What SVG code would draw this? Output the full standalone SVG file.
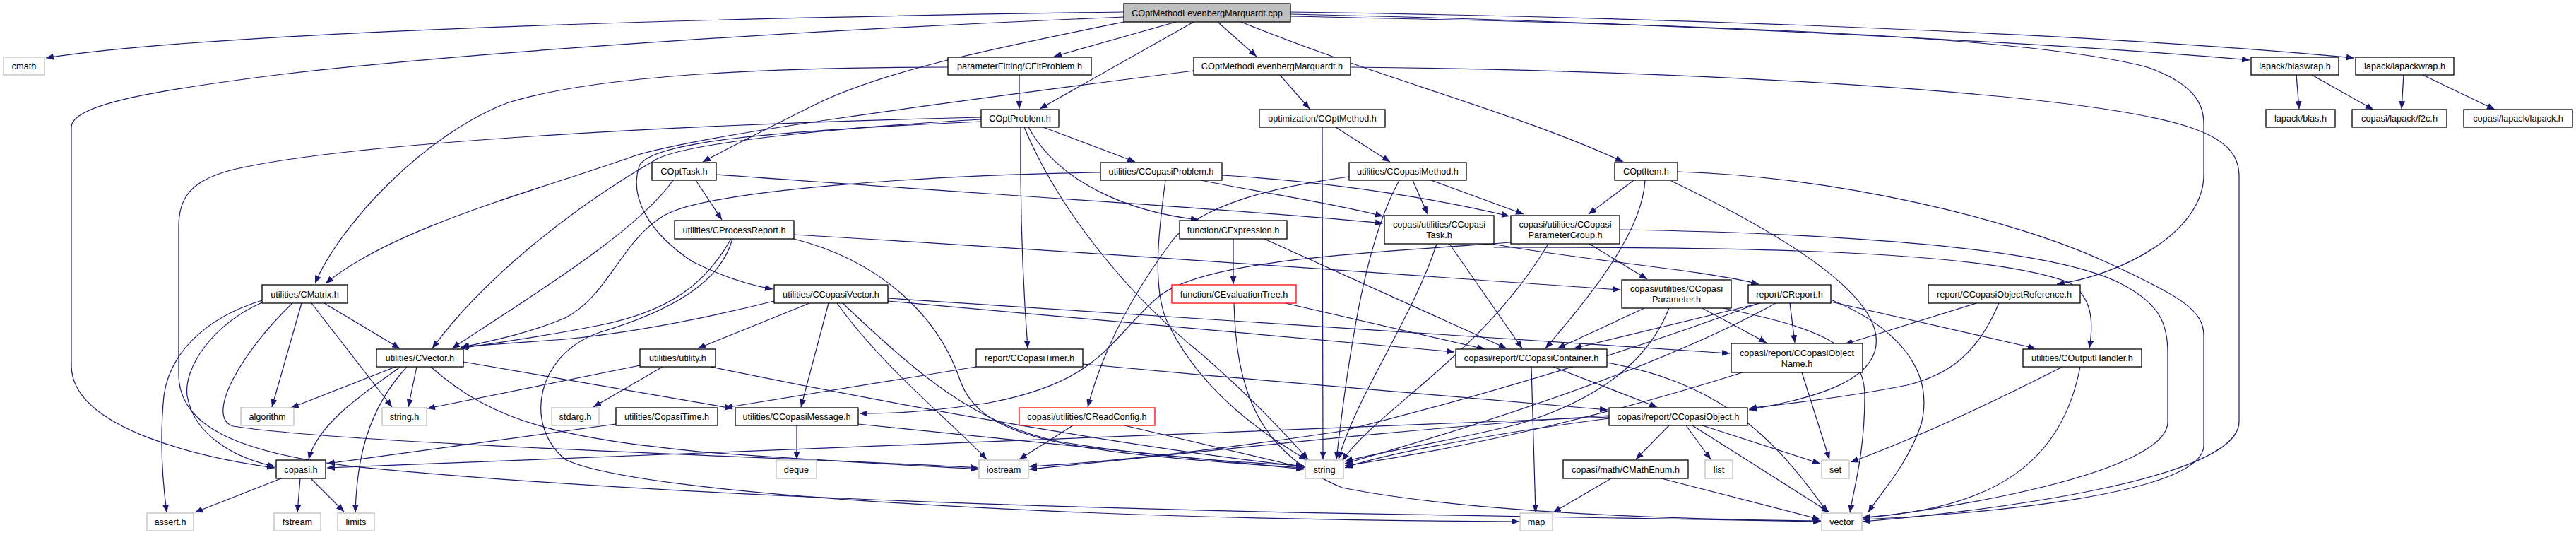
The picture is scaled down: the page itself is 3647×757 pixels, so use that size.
<svg xmlns="http://www.w3.org/2000/svg" width="3647" height="757" viewBox="0 0 3647 757">
<style>
.node rect{fill:#ffffff;stroke:#000000;stroke-width:1.3}
.sys rect{stroke:#bfbfbf}
.red rect{stroke:#ff0000}
.main rect{fill:#bfbfbf}
text{font-family:"Liberation Sans",Arial,sans-serif;font-size:12.7px;text-anchor:middle;fill:#000000}
#edges path{fill:none;stroke:#191970;stroke-width:1.2;marker-end:url(#arr)}
</style>
<defs>
<marker id="arr" markerUnits="userSpaceOnUse" markerWidth="11" markerHeight="9" refX="11" refY="4.5" orient="auto"><path d="M0,0 L11,4.5 L0,9 z" fill="#191970"/></marker>
</defs>
<rect width="3647" height="757" fill="#ffffff"/>
<g id="edges">
<path d="M1591,17 C1000,25 300,45 65,82"/>
<path d="M1591,24 C1200,40 700,70 400,105 C200,130 101,150 101,180 L101,517 C101,610 300,650 389,662"/>
<path d="M1665,31 L1492,80"/>
<path d="M1690,31 L1472,154"/>
<path d="M1724,31 L1779,80"/>
<path d="M1591,31 C1400,70 1250,100 1150,150 C1080,185 1030,210 995,229"/>
<path d="M1757,31 C1950,110 2150,160 2298,229"/>
<path d="M1827,17 C2400,25 3000,50 3333,82"/>
<path d="M1827,20 C2300,30 2900,60 3185,85"/>
<path d="M1827,23 C2300,33 2850,45 3040,95 C3110,120 3120,150 3120,175 L3120,247 C3120,330 3000,390 2912,402"/>
<path d="M1443,106 L1443,154"/>
<path d="M1342,95 C1100,95 850,105 720,145 C600,190 480,320 446,401"/>
<path d="M1812,106 L1854,154"/>
<path d="M1690,100 C1300,150 1000,190 900,220 C760,270 560,320 461,401"/>
<path d="M1912,95 C2400,100 2950,130 3100,180 C3160,200 3170,225 3170,250 L3170,597 C3170,680 2800,725 2637,738"/>
<path d="M3251,106 L3255,154"/>
<path d="M3273,106 L3360,155"/>
<path d="M3403,106 L3400,154"/>
<path d="M3430,106 L3532,155"/>
<path d="M1891,180 L1968,229"/>
<path d="M1872,180 L1873,650"/>
<path d="M1477,180 L1607,229"/>
<path d="M1456,180 C1500,260 1600,300 1697,311"/>
<path d="M1445,180 C1444,300 1448,400 1455,493"/>
<path d="M1450,180 C1500,300 1600,420 1700,500 C1780,570 1820,615 1852,650"/>
<path d="M1389,169 C1200,180 980,200 930,225 C800,300 680,400 612,493"/>
<path d="M1389,172 C1100,185 920,200 905,235 C890,280 920,330 980,370 C1030,395 1070,405 1094,409"/>
<path d="M1389,166 C1000,175 500,200 330,240 C270,255 253,280 253,320 L253,530 C253,600 330,640 500,660 C900,700 1500,720 2000,728 C2300,732 2500,736 2578,738"/>
<path d="M985,255 L1022,311"/>
<path d="M1014,247 C1400,275 1800,300 1958,316"/>
<path d="M953,255 C900,330 750,420 640,493"/>
<path d="M1558,244 C1300,248 1000,270 940,305 C880,340 860,420 800,450 C740,475 680,485 652,492"/>
<path d="M1730,248 C1900,258 2050,285 2137,306"/>
<path d="M1700,255 C1800,275 1900,290 1958,306"/>
<path d="M1650,255 C1640,330 1632,400 1650,450 C1700,560 1800,620 1850,651"/>
<path d="M2000,255 L2021,303"/>
<path d="M2026,255 L2157,303"/>
<path d="M1981,255 C1940,330 1915,450 1892,650"/>
<path d="M1910,250 C1800,265 1700,290 1660,340 C1600,420 1560,500 1540,576"/>
<path d="M2313,255 L2249,303"/>
<path d="M2329,255 C2325,330 2250,420 2188,493"/>
<path d="M2366,256 C2500,320 2640,400 2655,470 C2670,540 2560,565 2476,580"/>
<path d="M2375,243 C2600,250 2850,310 2980,370 C3090,420 3120,440 3120,475 L3120,630 C3120,700 2800,728 2637,735"/>
<path d="M1746,338 L1746,402"/>
<path d="M1790,338 L2133,493"/>
<path d="M1820,429 L2102,494"/>
<path d="M1747,429 C1750,550 1780,640 1900,690 C2100,730 2450,736 2578,737"/>
<path d="M1124,332 C1600,360 2000,390 2294,410"/>
<path d="M1035,338 C1000,400 950,440 850,460 C750,480 680,488 652,493"/>
<path d="M1037,338 C1020,400 950,440 850,470 C760,500 740,600 800,650 C900,700 1500,735 2151,738"/>
<path d="M1124,338 C1250,370 1330,450 1360,540 C1390,620 1500,640 1846,662"/>
<path d="M2034,345 C2000,450 1920,560 1895,650"/>
<path d="M2052,345 L2155,493"/>
<path d="M2112,345 C2250,370 2400,380 2490,402"/>
<path d="M2115,350 C2400,350 2800,350 2930,400 C2960,420 2965,450 2958,493"/>
<path d="M2139,343 C1900,360 1700,370 1640,420 C1570,480 1560,540 1400,570 C1300,585 1250,585 1217,585"/>
<path d="M2250,345 L2332,395"/>
<path d="M2192,345 C2100,500 1950,580 1900,652"/>
<path d="M2293,325 C2600,330 2900,350 3000,400 C3060,430 3069,460 3069,500 L3069,597 C3069,670 2750,722 2637,733"/>
<path d="M459,429 L566,493"/>
<path d="M427,429 L385,576"/>
<path d="M441,429 L555,576"/>
<path d="M371,428 C300,460 260,520 265,560 C275,620 340,650 389,660"/>
<path d="M371,425 C290,450 240,500 232,560 C226,620 230,680 236,725"/>
<path d="M414,429 C340,500 290,590 330,603 C500,630 1200,650 1385,662"/>
<path d="M560,519 L412,577"/>
<path d="M590,519 L578,576"/>
<path d="M567,519 C510,560 450,600 437,650"/>
<path d="M576,519 C520,580 505,650 503,725"/>
<path d="M610,519 C700,600 800,620 1000,640 C1200,655 1330,660 1385,664"/>
<path d="M656,512 L1037,578"/>
<path d="M872,600 L463,656"/>
<path d="M1382,519 L1026,577"/>
<path d="M1533,515 C1800,540 2100,565 2276,580"/>
<path d="M906,517 L605,578"/>
<path d="M938,519 L840,576"/>
<path d="M1006,519 C1300,580 1650,640 1846,660"/>
<path d="M1146,429 L988,493"/>
<path d="M1173,429 L1134,576"/>
<path d="M1185,429 C1250,520 1350,600 1397,650"/>
<path d="M1193,429 C1300,530 1380,600 1500,625 C1650,650 1780,655 1846,659"/>
<path d="M1096,426 C1000,450 900,470 800,480 C720,486 680,488 653,491"/>
<path d="M1257,426 L2059,498"/>
<path d="M1257,422 C1700,452 2200,480 2449,500"/>
<path d="M1519,602 L1443,650"/>
<path d="M1592,602 L1846,662"/>
<path d="M1128,602 L1128,650"/>
<path d="M1215,600 C1500,630 1700,650 1846,664"/>
<path d="M398,677 L276,725"/>
<path d="M425,677 L421,725"/>
<path d="M440,677 L487,724"/>
<path d="M2199,519 L2346,576"/>
<path d="M2168,519 L2174,725"/>
<path d="M2275,513 C2420,540 2500,600 2587,725"/>
<path d="M2328,436 L2205,493"/>
<path d="M2410,436 L2501,485"/>
<path d="M2363,436 C2330,520 2250,570 2150,600 C2050,625 1950,640 1904,653"/>
<path d="M2440,436 C2550,460 2640,480 2640,560 C2640,640 2625,690 2619,725"/>
<path d="M2492,429 L2228,493"/>
<path d="M2534,429 L2541,485"/>
<path d="M2514,429 C2350,520 2100,600 1904,656"/>
<path d="M2490,429 C2300,500 2100,560 1900,610 C1700,640 1550,655 1457,660"/>
<path d="M2592,427 L2882,493"/>
<path d="M2592,424 C2680,460 2740,520 2720,600 C2700,660 2660,700 2645,725"/>
<path d="M2467,527 C2300,580 2100,630 1904,659"/>
<path d="M2551,527 L2590,650"/>
<path d="M2363,602 L2316,650"/>
<path d="M2387,602 L2422,650"/>
<path d="M2410,602 L2577,656"/>
<path d="M2396,602 L2590,725"/>
<path d="M2278,592 C2100,615 1950,645 1904,662"/>
<path d="M2278,588 C2000,605 1700,640 1457,664"/>
<path d="M2278,590 C1800,610 1000,640 463,662"/>
<path d="M2281,677 L2199,725"/>
<path d="M2352,677 L2577,735"/>
<path d="M2830,429 C2800,500 2760,530 2700,545 C2600,565 2520,572 2476,578"/>
<path d="M2798,429 L2612,487"/>
<path d="M2920,519 C2800,580 2700,625 2620,654"/>
<path d="M2945,519 C2920,650 2830,720 2637,732"/>
</g>
<g id="n_main" class="node main"><rect x="1591" y="5" width="236" height="26"/><text x="1709" y="22.5">COptMethodLevenbergMarquardt.cpp</text></g>
<g id="n_cmath" class="node sys"><rect x="5" y="81" width="58" height="25"/><text x="34" y="98">cmath</text></g>
<g id="n_cfitproblem" class="node"><rect x="1342" y="81" width="203" height="25"/><text x="1443.5" y="98">parameterFitting/CFitProblem.h</text></g>
<g id="n_coptmethodlm" class="node"><rect x="1690" y="81" width="222" height="25"/><text x="1801" y="98">COptMethodLevenbergMarquardt.h</text></g>
<g id="n_blaswrap" class="node"><rect x="3187" y="81" width="124" height="25"/><text x="3249" y="98">lapack/blaswrap.h</text></g>
<g id="n_lapackwrap" class="node"><rect x="3335" y="81" width="139" height="25"/><text x="3404.5" y="98">lapack/lapackwrap.h</text></g>
<g id="n_coptproblem" class="node"><rect x="1389" y="155" width="110" height="25"/><text x="1444" y="172">COptProblem.h</text></g>
<g id="n_coptmethod" class="node"><rect x="1783" y="155" width="178" height="25"/><text x="1872" y="172">optimization/COptMethod.h</text></g>
<g id="n_blas" class="node"><rect x="3208" y="155" width="98" height="25"/><text x="3257" y="172">lapack/blas.h</text></g>
<g id="n_f2c" class="node"><rect x="3330" y="155" width="134" height="25"/><text x="3397" y="172">copasi/lapack/f2c.h</text></g>
<g id="n_lapack" class="node"><rect x="3488" y="155" width="154" height="25"/><text x="3565" y="172">copasi/lapack/lapack.h</text></g>
<g id="n_copttask" class="node"><rect x="923" y="230" width="91" height="25"/><text x="968.5" y="247">COptTask.h</text></g>
<g id="n_ccopasiproblem" class="node"><rect x="1558" y="230" width="172" height="25"/><text x="1644" y="247">utilities/CCopasiProblem.h</text></g>
<g id="n_ccopasimethod" class="node"><rect x="1910" y="230" width="166" height="25"/><text x="1993" y="247">utilities/CCopasiMethod.h</text></g>
<g id="n_coptitem" class="node"><rect x="2286" y="230" width="89" height="25"/><text x="2330.5" y="247">COptItem.h</text></g>
<g id="n_cprocessreport" class="node"><rect x="955" y="312" width="169" height="26"/><text x="1039.5" y="329.5">utilities/CProcessReport.h</text></g>
<g id="n_cexpression" class="node"><rect x="1670" y="312" width="152" height="26"/><text x="1746" y="329.5">function/CExpression.h</text></g>
<g id="n_ccopasitask" class="node"><rect x="1960" y="305" width="155" height="40"/><text x="2037.5" y="322">copasi/utilities/CCopasi</text><text x="2037.5" y="337">Task.h</text></g>
<g id="n_ccopasiparametergroup" class="node"><rect x="2139" y="305" width="154" height="40"/><text x="2216" y="322">copasi/utilities/CCopasi</text><text x="2216" y="337">ParameterGroup.h</text></g>
<g id="n_cmatrix" class="node"><rect x="371" y="403" width="121" height="26"/><text x="431.5" y="420.5">utilities/CMatrix.h</text></g>
<g id="n_ccopasivector" class="node"><rect x="1096" y="403" width="161" height="26"/><text x="1176.5" y="420.5">utilities/CCopasiVector.h</text></g>
<g id="n_cevaluationtree" class="node red"><rect x="1659" y="403" width="176" height="26"/><text x="1747" y="420.5">function/CEvaluationTree.h</text></g>
<g id="n_ccopasiparameter" class="node"><rect x="2296" y="396" width="155" height="40"/><text x="2373.5" y="413">copasi/utilities/CCopasi</text><text x="2373.5" y="428">Parameter.h</text></g>
<g id="n_creport" class="node"><rect x="2475" y="403" width="117" height="26"/><text x="2533.5" y="420.5">report/CReport.h</text></g>
<g id="n_ccopasiobjectreference" class="node"><rect x="2730" y="403" width="215" height="26"/><text x="2837.5" y="420.5">report/CCopasiObjectReference.h</text></g>
<g id="n_cvector" class="node"><rect x="533" y="494" width="123" height="25"/><text x="594.5" y="511">utilities/CVector.h</text></g>
<g id="n_utility" class="node"><rect x="906" y="494" width="107" height="25"/><text x="959.5" y="511">utilities/utility.h</text></g>
<g id="n_ccopasitimer" class="node"><rect x="1382" y="494" width="151" height="25"/><text x="1457.5" y="511">report/CCopasiTimer.h</text></g>
<g id="n_ccopasicontainer" class="node"><rect x="2061" y="494" width="214" height="25"/><text x="2168" y="511">copasi/report/CCopasiContainer.h</text></g>
<g id="n_ccopasiobjectname" class="node"><rect x="2451" y="486" width="186" height="41"/><text x="2544" y="503.5">copasi/report/CCopasiObject</text><text x="2544" y="518.5">Name.h</text></g>
<g id="n_coutputhandler" class="node"><rect x="2864" y="494" width="168" height="25"/><text x="2948" y="511">utilities/COutputHandler.h</text></g>
<g id="n_algorithm" class="node sys"><rect x="341" y="577" width="75" height="25"/><text x="378.5" y="594">algorithm</text></g>
<g id="n_string_h" class="node sys"><rect x="541" y="577" width="63" height="25"/><text x="572.5" y="594">string.h</text></g>
<g id="n_stdarg" class="node sys"><rect x="781" y="577" width="67" height="25"/><text x="814.5" y="594">stdarg.h</text></g>
<g id="n_copasitime" class="node"><rect x="872" y="577" width="144" height="25"/><text x="944" y="594">utilities/CopasiTime.h</text></g>
<g id="n_ccopasimessage" class="node"><rect x="1041" y="577" width="174" height="25"/><text x="1128" y="594">utilities/CCopasiMessage.h</text></g>
<g id="n_creadconfig" class="node red"><rect x="1443" y="577" width="192" height="25"/><text x="1539" y="594">copasi/utilities/CReadConfig.h</text></g>
<g id="n_ccopasiobject" class="node"><rect x="2278" y="577" width="196" height="25"/><text x="2376" y="594">copasi/report/CCopasiObject.h</text></g>
<g id="n_copasi_h" class="node"><rect x="391" y="651" width="70" height="26"/><text x="426" y="668.5">copasi.h</text></g>
<g id="n_deque" class="node sys"><rect x="1099" y="651" width="57" height="26"/><text x="1127.5" y="668.5">deque</text></g>
<g id="n_iostream" class="node sys"><rect x="1386" y="651" width="70" height="26"/><text x="1421" y="668.5">iostream</text></g>
<g id="n_string" class="node sys"><rect x="1848" y="651" width="54" height="26"/><text x="1875" y="668.5">string</text></g>
<g id="n_cmathenum" class="node"><rect x="2213" y="651" width="177" height="26"/><text x="2301.5" y="668.5">copasi/math/CMathEnum.h</text></g>
<g id="n_list" class="node sys"><rect x="2414" y="651" width="39" height="26"/><text x="2433.5" y="668.5">list</text></g>
<g id="n_set" class="node sys"><rect x="2579" y="651" width="39" height="26"/><text x="2598.5" y="668.5">set</text></g>
<g id="n_assert" class="node sys"><rect x="208" y="726" width="66" height="25"/><text x="241" y="743">assert.h</text></g>
<g id="n_fstream" class="node sys"><rect x="388" y="726" width="66" height="25"/><text x="421" y="743">fstream</text></g>
<g id="n_limits" class="node sys"><rect x="478" y="726" width="52" height="25"/><text x="504" y="743">limits</text></g>
<g id="n_map" class="node sys"><rect x="2152" y="726" width="46" height="25"/><text x="2175" y="743">map</text></g>
<g id="n_vector" class="node sys"><rect x="2579" y="726" width="57" height="25"/><text x="2607.5" y="743">vector</text></g>
</svg>
